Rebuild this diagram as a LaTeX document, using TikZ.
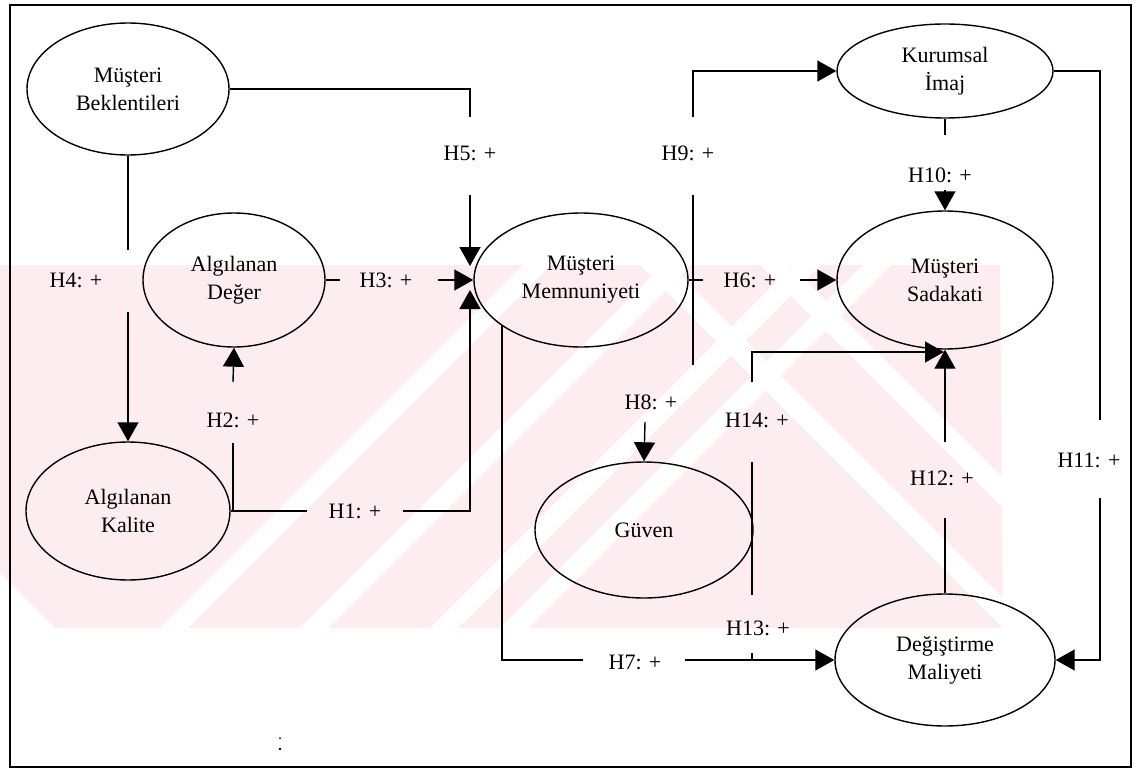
\documentclass[tikz,border=0pt]{standalone}
\usepackage{fontspec}
\setmainfont{Liberation Serif}
\usetikzlibrary{shapes.geometric,arrows.meta,calc}
\definecolor{wm}{RGB}{253,236,240}
\begin{document}
\begin{tikzpicture}[x=1pt,y=-1pt,
  ell/.style={ellipse,draw,line width=1.4pt,inner sep=0pt,align=center,
    font=\fontsize{22}{28}\selectfont},
  lab/.style={inner sep=0pt,font=\fontsize{22}{27}\selectfont},
  conn/.style={line width=1.4pt},
  arr/.style={line width=1.4pt,-{Triangle[length=19pt,width=21pt]}}]
\useasboundingbox (0,0) rectangle (1135,773);
% watermark
\begin{scope}
  \clip (0,265) -- (1000,265) -- (1003,628) -- (55,628) -- (0,573) -- cycle;
  \fill[wm] (0,265) rectangle (1010,628);
  \foreach \x in {160,300,430,500} {
    \fill[white] (\x,628) -- (\x+28,628) -- (\x+28+363,265) -- (\x+363,265) -- cycle;}
  \foreach \x in {640,760} {
    \fill[white] (\x,265) -- (\x+30,265) -- (\x+30+363,628) -- (\x+363,628) -- cycle;}
\end{scope}
% frame
\draw[line width=1.4pt] (10,5) rectangle (1131,767);
% nodes
\node[ell,minimum width=202pt,minimum height=132pt] (A) at (128,89) {Müşteri\\Beklentileri};
\node[ell,minimum width=182pt,minimum height=134pt] (B) at (234,280) {Algılanan\\Değer};
\node[ell,minimum width=204pt,minimum height=138pt] (C) at (128,511) {Algılanan\\Kalite};
\node[ell,minimum width=214pt,minimum height=134pt] (D) at (581,280) {Müşteri\\Memnuniyeti};
\node[ell,minimum width=216pt,minimum height=94pt] (E) at (945,71) {Kurumsal\\İmaj};
\node[ell,minimum width=216pt,minimum height=138pt] (F) at (945,280) {Müşteri\\Sadakati};
\node[ell,minimum width=218pt,minimum height=136pt] (G) at (644,530) {Güven};
\node[ell,minimum width=220pt,minimum height=132pt] (H) at (945,660) {Değiştirme\\Maliyeti};
% labels
\node[lab] (l1) at (355,511) {H1: +};
\node[lab] (l2) at (233,420) {H2: +};
\node[lab] (l3) at (386,280) {H3: +};
\node[lab] (l4) at (76,280) {H4: +};
\node[lab] (l5) at (470,153) {H5: +};
\node[lab] (l6) at (750,280) {H6: +};
\node[lab] (l7) at (635,662) {H7: +};
\node[lab] (l8) at (651,402) {H8: +};
\node[lab] (l9) at (688,153) {H9: +};
\node[lab] (l10) at (940,175) {H10: +};
\node[lab] (l11) at (1089,460) {H11: +};
\node[lab] (l12) at (942,478) {H12: +};
\node[lab] (l13) at (758,628) {H13: +};
\node[lab] (l14) at (757,420) {H14: +};
% coordinates
\coordinate (c5a) at (470,117);
\coordinate (c5b) at (470,195);
\coordinate (c5t) at (470,266);
\coordinate (c3a) at (340,280);
\coordinate (c3b) at (438,280);
\coordinate (c1a) at (307,511);
\coordinate (c1b) at (403,511);
\coordinate (c1t) at (470,290);
\coordinate (c2o) at (233,511);
\coordinate (c2a) at (233,443);
\coordinate (c2b) at (233,382);
\coordinate (c4a) at (128,250);
\coordinate (c4b) at (128,312);
\coordinate (c6a) at (703,280);
\coordinate (c6b) at (800,280);
\coordinate (c9a) at (693,117);
\coordinate (c9b) at (693,195);
\coordinate (c9c) at (693,365);
\coordinate (c10a) at (945,135);
\coordinate (c10b) at (945,190);
\coordinate (c8) at (645,422);
\coordinate (c7o) at (502,325);
\coordinate (c7a) at (583,660);
\coordinate (c7b) at (685,660);
\coordinate (c13o) at (752,462);
\coordinate (c13a) at (752,595);
\coordinate (c13b) at (752,653);
\coordinate (c13c) at (752,660);
\coordinate (c14b) at (752,382);
\coordinate (c14t) at (944,352);
\coordinate (c12a) at (945,518);
\coordinate (c12b) at (945,442);
\coordinate (c11a) at (1100,420);
\coordinate (c11b) at (1100,498);
% connectors
\draw[conn] (A.east) -| (c5a);
\draw[arr] (c5b) -- (c5t);
\draw[conn] (B.east) -- (c3a);
\draw[arr] (c3b) -- (D.west);
\draw[conn] (C.east) -- (c1a);
\draw[arr] (c1b) -| (c1t);
\draw[conn] (c2o) -- (c2a);
\draw[arr] (c2b) -- (B.south);
\draw[conn] (A.south) -- (c4a);
\draw[arr] (c4b) -- (C.north);
\draw[conn] (D.east) -- (c6a);
\draw[arr] (c6b) -- (F.west);
\draw[arr] (c9a) |- (E.west);
\draw[conn] (c9b) -- (c9c);
\draw[conn] (E.south) -- (c10a);
\draw[arr] (c10b) -- (F.north);
\draw[arr] (c8) -- (G.north);
\draw[conn] (c7o) |- (c7a);
\draw[arr] (c7b) -- (H.west);
\draw[conn] (c13o) -- (c13a);
\draw[conn] (c13b) -- (c13c);
\draw[arr] (c14b) |- (c14t);
\draw[conn] (H.north) -- (c12a);
\draw[arr] (c12b) -- (F.south);
\draw[conn] (E.east) -| (c11a);
\draw[arr] (c11b) |- (H.east);
% stray mark
\fill (280,738) circle (1pt);
\fill (280,749) circle (1.4pt);
\end{tikzpicture}
\end{document}
